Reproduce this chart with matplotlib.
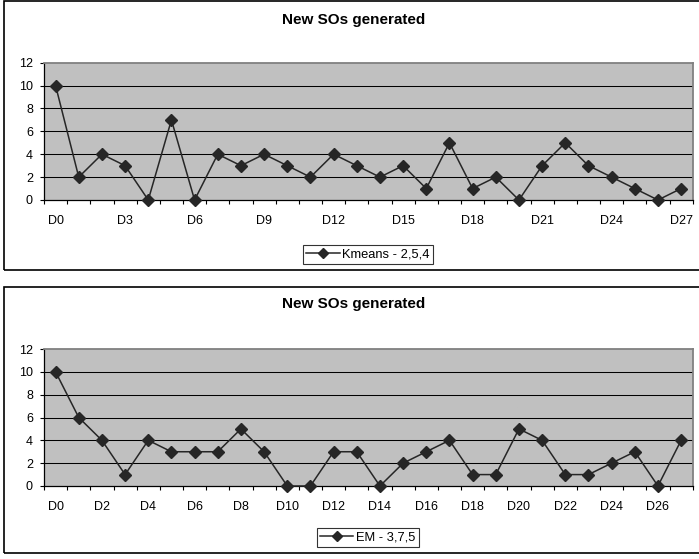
import matplotlib
matplotlib.use("Agg")
import matplotlib.pyplot as plt
from matplotlib.patches import Rectangle
from matplotlib.ticker import FixedLocator, NullFormatter

plt.rcParams['font.family'] = ['Liberation Sans', 'DejaVu Sans']

days = [f"D{i}" for i in range(28)]
kmeans_values = [10, 2, 4, 3, 0, 7, 0, 4, 3, 4, 3, 2, 4, 3,
                 2, 3, 1, 5, 1, 2, 0, 3, 5, 3, 2, 1, 0, 1]
em_values = [10, 6, 4, 1, 4, 3, 3, 3, 5, 3, 0, 0, 3, 3,
             0, 2, 3, 4, 1, 1, 5, 4, 1, 1, 2, 3, 0, 4]
title_text = "New SOs generated"
kmeans_label = "Kmeans - 2,5,4"
em_label = "EM - 3,7,5"
y_ticks = [0, 2, 4, 6, 8, 10, 12]

W, H = 699, 559
fig = plt.figure(figsize=(W / 100, H / 100), dpi=100)


def fx(px):
    return px / W


def fy(py):
    return 1 - py / H


def panel(box_top, box_bottom, ax_top, ax_bottom, values, label, step,
          title_y, leg_center):
    # chart outline
    fig.patches.append(Rectangle((fx(4), fy(box_bottom)), fx(720 - 4),
                                 (box_bottom - box_top) / H,
                                 transform=fig.transFigure, fill=False,
                                 edgecolor='black', linewidth=1.2))
    left, right = 44, 692.7
    ax = fig.add_axes([fx(left), fy(ax_bottom), (right - left) / W,
                       (ax_bottom - ax_top) / H])
    ax.set_facecolor('#c0c0c0')
    x = list(range(len(days)))
    for v in y_ticks[1:-1]:
        ax.axhline(v, color='black', linewidth=0.75, zorder=1)
    line, = ax.plot(x, values, color='#262626', linewidth=1.1,
                    marker='D', markersize=6, markerfacecolor='#262626',
                    markeredgecolor='#262626', label=label, zorder=3,
                    clip_on=False)
    ax.set_xlim(-0.5, len(days) - 0.5)
    ax.set_ylim(0, 12)
    ax.set_yticks(y_ticks)
    ax.tick_params(axis='y', direction='out', length=3, width=0.8,
                   pad=5, labelsize=9, colors='black')
    shown = list(range(0, len(days), step))
    ax.set_xticks(shown)
    ax.set_xticklabels([days[i] for i in shown])
    ax.tick_params(axis='x', which='major', length=0, pad=10.5,
                   labelsize=9)
    ax.xaxis.set_minor_locator(FixedLocator([i - 0.5 for i in range(len(days) + 1)]))
    ax.xaxis.set_minor_formatter(NullFormatter())
    ax.tick_params(axis='x', which='minor', direction='out', length=3,
                   width=0.8)
    for s in ('left', 'bottom'):
        ax.spines[s].set_color('black')
        ax.spines[s].set_linewidth(0.9)
    for s in ('top', 'right'):
        ax.spines[s].set_color('#808080')
        ax.spines[s].set_linewidth(1.3)
    fig.text(fx(354), fy(title_y), title_text, ha='center', va='center',
             fontsize=11, fontweight='bold')
    leg = ax.legend(handles=[line], loc='center',
                    bbox_to_anchor=(fx(leg_center[0]), fy(leg_center[1])),
                    bbox_transform=fig.transFigure, fontsize=9.3,
                    frameon=True, fancybox=False, handlelength=2.6,
                    handletextpad=0.2, borderpad=0.25, markerscale=0.8,
                    borderaxespad=0)
    leg.get_frame().set_edgecolor('black')
    leg.get_frame().set_linewidth(0.8)
    return ax


panel(1, 270, 62.7, 200, kmeans_values, kmeans_label, 3, 20, (368, 254.5))
panel(287, 553, 349, 486, em_values, em_label, 2, 304, (367.5, 537.5))

fig.savefig("out.png", dpi=100)
